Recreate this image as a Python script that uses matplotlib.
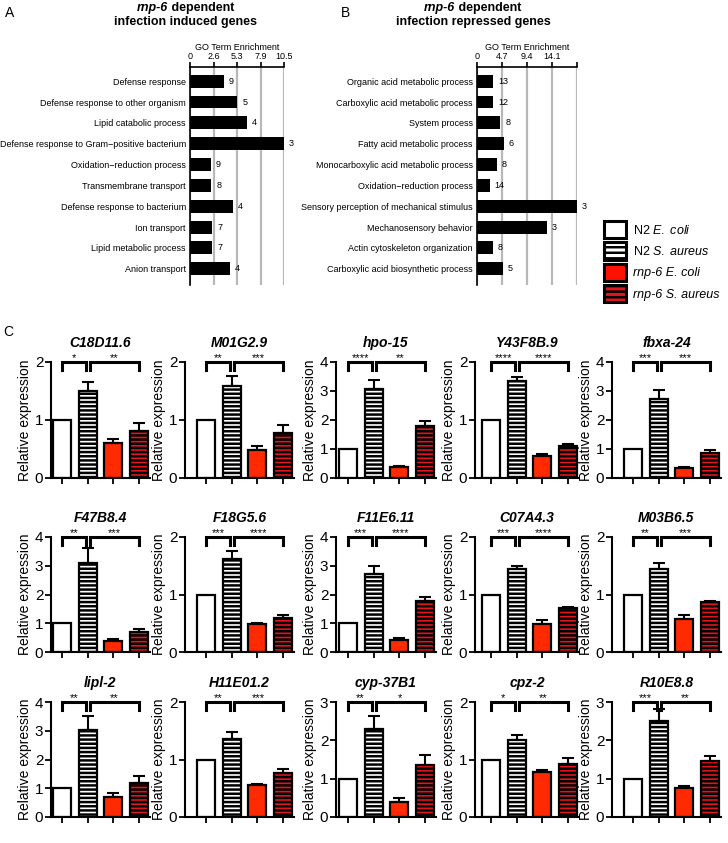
import matplotlib
matplotlib.use('Agg')
import matplotlib.pyplot as plt
import matplotlib.transforms as mtransforms
from matplotlib.patches import Patch
import numpy as np

plt.rcParams['font.family'] = ['Liberation Sans', 'DejaVu Sans']
plt.rcParams['mathtext.fontset'] = 'custom'
plt.rcParams['mathtext.rm'] = 'Liberation Sans'
plt.rcParams['mathtext.it'] = 'Liberation Sans:italic'
plt.rcParams['hatch.linewidth'] = 1.8

# ---------------- data ----------------
induced_terms = ["Defense response", "Defense response to other organism",
                 "Lipid catabolic process",
                 "Defense response to Gram\u2212positive bacterium",
                 "Oxidation\u2212reduction process", "Transmembrane transport",
                 "Defense response to bacterium", "Ion transport",
                 "Lipid metabolic process", "Anion transport"]
induced_enrichment = [3.8, 5.3, 6.4, 10.5, 2.3, 2.4, 4.8, 2.5, 2.5, 4.5]
induced_counts = [9, 5, 4, 3, 9, 8, 4, 7, 7, 4]
induced_ticks = [0, 2.625, 5.25, 7.875, 10.5]
induced_ticklabels = ["0", "2.6", "5.3", "7.9", "10.5"]

repressed_terms = ["Organic acid metabolic process", "Carboxylic acid metabolic process",
                   "System process", "Fatty acid metabolic process",
                   "Monocarboxylic acid metabolic process", "Oxidation\u2212reduction process",
                   "Sensory perception of mechanical stimulus", "Mechanosensory behavior",
                   "Actin cytoskeleton organization", "Carboxylic acid biosynthetic process"]
repressed_enrichment = [3.05, 3.05, 4.4, 5.1, 3.7, 2.4, 18.8, 13.1, 3.0, 4.8]
repressed_counts = [13, 12, 8, 6, 8, 14, 3, 3, 8, 5]
repressed_ticks = [0, 4.7, 9.4, 14.1, 18.8]
repressed_ticklabels = ["0", "4.7", "9.4", "14.1", ""]

genes = ["C18D11.6", "M01G2.9", "hpo-15", "Y43F8B.9", "fbxa-24",
         "F47B8.4", "F18G5.6", "F11E6.11", "C07A4.3", "M03B6.5",
         "lipl-2", "H11E01.2", "cyp-37B1", "cpz-2", "R10E8.8"]
y_max = [2, 2, 4, 2, 4, 4, 2, 4, 2, 2, 4, 2, 3, 2, 3]
n2_ecoli = [1.0] * 15
n2_saureus = [1.50, 1.58, 3.08, 1.67, 2.72, 3.09, 1.61, 2.71, 1.44, 1.45,
              3.02, 1.35, 2.29, 1.34, 2.51]
n2_saureus_err = [0.15, 0.17, 0.29, 0.07, 0.31, 0.54, 0.15, 0.29, 0.06, 0.10,
                  0.48, 0.12, 0.34, 0.09, 0.31]
rnp6_ecoli = [0.60, 0.49, 0.37, 0.38, 0.34, 0.40, 0.48, 0.43, 0.49, 0.58,
              0.70, 0.55, 0.39, 0.78, 0.76]
rnp6_ecoli_err = [0.07, 0.07, 0.03, 0.04, 0.04, 0.05, 0.02, 0.07, 0.06, 0.07,
                  0.13, 0.03, 0.10, 0.03, 0.05]
rnp6_saureus = [0.81, 0.77, 1.81, 0.55, 0.85, 0.71, 0.60, 1.76, 0.76, 0.87,
                1.20, 0.77, 1.35, 0.92, 1.46]
rnp6_saureus_err = [0.13, 0.14, 0.17, 0.04, 0.12, 0.08, 0.04, 0.16, 0.03, 0.02,
                    0.22, 0.06, 0.28, 0.11, 0.12]
sig_left = ["*", "**", "****", "****", "***", "**", "***", "***", "***", "**",
            "**", "**", "**", "*", "***"]
sig_right = ["**", "***", "**", "****", "***", "***", "****", "****", "****", "***",
             "**", "***", "*", "**", "**"]

# ---------------- figure ----------------
W, H = 728, 843
fig = plt.figure(figsize=(W / 100, H / 100), dpi=100)
fig.patch.set_facecolor('white')


def px_axes(left, top, width, height):
    return fig.add_axes([left / W, 1 - (top + height) / H, width / W, height / H])


def rich_center(xc, yc, parts, size):
    renderer = fig.canvas.get_renderer()
    objs, widths = [], []
    for s, style in parts:
        t = fig.text(0, 0, s, fontsize=size, fontweight='bold', fontstyle=style,
                     va='center', ha='left')
        objs.append(t)
        widths.append(t.get_window_extent(renderer).width)
    cur = xc - sum(widths) / 2
    for t, w in zip(objs, widths):
        t.set_position((cur / W, 1 - yc / H))
        cur += w


def go_panel(ax, terms, vals, counts, ticks, ticklabels, xmax):
    y = np.arange(len(terms))
    ax.barh(y, vals, height=0.62, color='black', zorder=3)
    for yi, v, c in zip(y, vals, counts):
        ax.annotate(str(c), (v, yi), xytext=(3.5, 0), textcoords='offset points',
                    va='center', ha='left', fontsize=6.5, annotation_clip=False)
    ax.set_xlim(0, xmax)
    ax.set_ylim(9.78, -0.68)
    ax.set_yticks(y)
    ax.set_yticklabels(terms, fontsize=6.5)
    ax.xaxis.tick_top()
    ax.xaxis.set_label_position('top')
    ax.set_xticks(ticks)
    ax.set_xticklabels(ticklabels, fontsize=6.5)
    ax.set_xlabel("GO Term Enrichment", fontsize=6.5, labelpad=1.5)
    ax.tick_params(axis='x', length=3.5, width=1.2, pad=0.5)
    ax.tick_params(axis='y', length=0, pad=3)
    ax.grid(axis='x', color='#b8b8b8', lw=1.6, zorder=0)
    ax.set_axisbelow(True)
    for s in ['right', 'bottom']:
        ax.spines[s].set_visible(False)
    for s in ['top', 'left']:
        ax.spines[s].set_linewidth(1.2)


axA = px_axes(190, 67, 94, 218)
go_panel(axA, induced_terms, induced_enrichment, induced_counts,
         induced_ticks, induced_ticklabels, 10.5)
axB = px_axes(477, 67, 100, 218)
go_panel(axB, repressed_terms, repressed_enrichment, repressed_counts,
         repressed_ticks, repressed_ticklabels, 18.8)

fig.text(10 / W, 1 - 13 / H, "A", fontsize=10, ha='center', va='center')
fig.text(346 / W, 1 - 13 / H, "B", fontsize=10, ha='center', va='center')
fig.text(8 / W, 1 - 332 / H, "C", fontsize=10, ha='center', va='center')

rich_center(186, 8, [("rnp-6", 'italic'), (" dependent", 'normal')], 9)
rich_center(186, 22, [("infection induced genes", 'normal')], 9)
rich_center(473, 8, [("rnp-6", 'italic'), (" dependent", 'normal')], 9)
rich_center(473, 22, [("infection repressed genes", 'normal')], 9)

# legend
ecoli_red = '#FF2A00'
saureus_red = '#E3141B'
handles = [Patch(facecolor='white', edgecolor='black', lw=2.2),
           Patch(facecolor='white', edgecolor='black', lw=2.2, hatch='---'),
           Patch(facecolor='#FF1100', edgecolor='black', lw=2.2),
           Patch(facecolor=saureus_red, edgecolor='black', lw=2.2, hatch='---')]
labels = ["N2 $\\mathit{E.\\ coli}$", "N2 $\\mathit{S.\\ aureus}$",
          "rnp-6 E. coli", "rnp-6 S. aureus"]
leg = fig.legend(handles, labels, loc='upper left',
                 bbox_to_anchor=(604 / W, 1 - 221 / H), frameon=False, fontsize=9,
                 handlelength=1.75, handleheight=1.75, labelspacing=0.32,
                 handletextpad=0.6, borderaxespad=0, borderpad=0)
for t in leg.get_texts()[2:]:
    t.set_fontstyle('italic')

# bar panels
col_axis_x = [51, 185, 336, 475, 612]
col_first_bar = [53, 197, 339, 482, 624]
row_top = [362, 537, 702]
row_base = [478, 652, 817]
unit = 25.5
bar_w = 0.72
colors = ['white', 'white', ecoli_red, saureus_red]
hatches = [None, '----', None, '----']

for i, gene in enumerate(genes):
    r, c = divmod(i, 5)
    gap = (col_first_bar[c] - col_axis_x[c]) / unit
    x0 = -bar_w / 2 - gap
    x1 = 3 + bar_w / 2 + 2 / unit
    ax = px_axes(col_axis_x[c], row_top[r], (x1 - x0) * unit, row_base[r] - row_top[r])
    vals = [n2_ecoli[i], n2_saureus[i], rnp6_ecoli[i], rnp6_saureus[i]]
    errs = [0, n2_saureus_err[i], rnp6_ecoli_err[i], rnp6_saureus_err[i]]
    x = np.arange(4)
    for j in range(4):
        ax.bar(x[j], vals[j], width=bar_w, color=colors[j], edgecolor='black',
               linewidth=1.6, hatch=hatches[j], zorder=2)
    ax.errorbar(x[1:], vals[1:], yerr=[np.zeros(3), errs[1:]], fmt='none',
                ecolor='black', elinewidth=1.5, capsize=4, capthick=1.5, zorder=1)
    ax.set_xlim(x0, x1)
    ax.set_ylim(0, y_max[i])
    ax.set_yticks(range(0, y_max[i] + 1))
    ax.set_xticks(x)
    ax.set_xticklabels([])
    ax.tick_params(axis='y', labelsize=11, length=4, width=1.3, pad=1.5)
    ax.tick_params(axis='x', length=4, width=1.3)
    for s in ['right', 'top']:
        ax.spines[s].set_visible(False)
    for s in ['left', 'bottom']:
        ax.spines[s].set_linewidth(1.5)
    ax.set_ylabel("Relative expression", fontsize=10, labelpad=2)
    ax.set_title(gene, fontsize=10, fontweight='bold', fontstyle='italic', pad=10.5)
    trans = mtransforms.blended_transform_factory(ax.transData, ax.transAxes)
    for (xa, xb, s) in [(0, 0.93, sig_left[i]), (1.08, 3, sig_right[i])]:
        ax.plot([xa, xa, xb, xb], [0.93, 1.0, 1.0, 0.93], color='black', lw=2.2,
                transform=trans, clip_on=False, solid_joinstyle='miter', zorder=5)
        ax.text((xa + xb) / 2, 0.99, s, transform=trans, ha='center', va='bottom',
                fontsize=8)

fig.savefig('out.png', dpi=100)
